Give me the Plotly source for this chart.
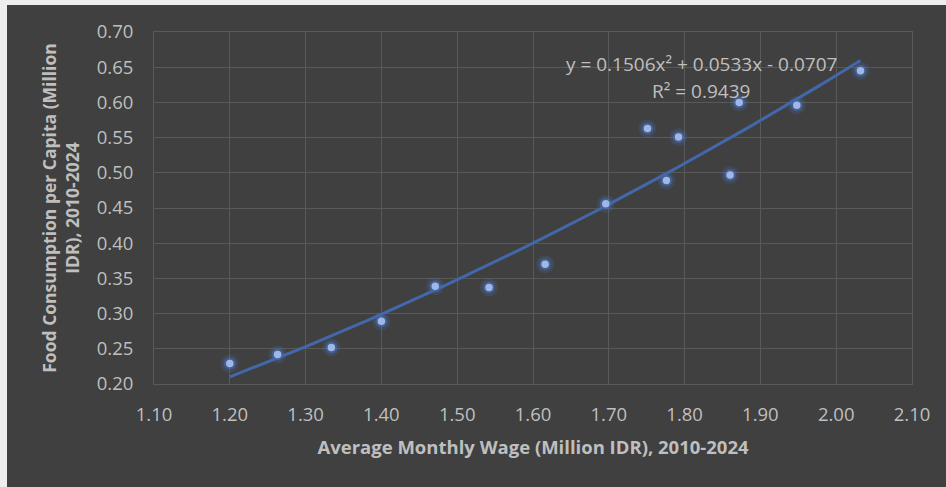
import numpy as np
import plotly.graph_objects as go

# Average monthly wage (million IDR) and food consumption per capita (million IDR), 2010-2024
wage = [1.200, 1.263, 1.334, 1.400, 1.471, 1.542, 1.616, 1.696, 1.751,
        1.776, 1.792, 1.860, 1.872, 1.948, 2.032]
food = [0.229, 0.242, 0.252, 0.289, 0.339, 0.337, 0.370, 0.456, 0.563,
        0.489, 0.551, 0.497, 0.600, 0.596, 0.645]

# Polynomial trendline (order 2) as reported on the chart
coef_a, coef_b, coef_c = 0.1506, 0.0533, -0.0707
r_squared = 0.9439

x_ticks = [1.10, 1.20, 1.30, 1.40, 1.50, 1.60, 1.70, 1.80, 1.90, 2.00, 2.10]
y_ticks = [0.20, 0.25, 0.30, 0.35, 0.40, 0.45, 0.50, 0.55, 0.60, 0.65, 0.70]

W, H = 946, 487
ML, MR, MT, MB = 154, 34, 32, 103
PW, PH = W - ML - MR, H - MT - MB

BG = "#404040"
GRID = "#595959"
TXT = "#bfbfbf"
FONT = "Open Sans"

trend_x = np.linspace(min(wage), max(wage), 60)
trend_y = coef_a * trend_x ** 2 + coef_b * trend_x + coef_c

fig = go.Figure()

# soft halo behind the points
fig.add_trace(go.Scatter(x=wage, y=food, mode="markers", hoverinfo="skip",
                         marker=dict(size=18, color="rgba(68,114,196,0.2)", line=dict(width=0))))
fig.add_trace(go.Scatter(x=wage, y=food, mode="markers", hoverinfo="skip",
                         marker=dict(size=12, color="rgba(80,125,205,0.4)", line=dict(width=0))))

fig.add_trace(go.Scatter(x=trend_x, y=trend_y, mode="lines",
                         line=dict(color="#4268ab", width=3)))

fig.add_trace(go.Scatter(x=wage, y=food, mode="markers",
                         marker=dict(size=7.5, color="#9db7ea", line=dict(width=0))))

axis_common = dict(
    showgrid=True, gridcolor=GRID, gridwidth=1,
    showline=True, linecolor=GRID, linewidth=1, mirror=True,
    zeroline=False, ticks="",
    tickfont=dict(family=FONT, size=18.5, color=TXT),
    tickformat=".2f",
)

fig.update_xaxes(range=[1.10, 2.10], tickvals=x_ticks, ticklabelstandoff=14,
                 title=dict(text="<b>Average Monthly Wage (Million IDR), 2010-2024</b>",
                            font=dict(family=FONT, size=18.5, color=TXT), standoff=15),
                 **axis_common)
fig.update_yaxes(range=[0.20, 0.70], tickvals=y_ticks, ticklabelstandoff=16,
                 title=dict(text="<b>Food Consumption per Capita (Million<br>IDR), 2010-2024</b>",
                            font=dict(family=FONT, size=17.5, color=TXT), standoff=12),
                 **axis_common)

eq_text = f"y = {coef_a:.4f}x² + {coef_b:.4f}x - {abs(coef_c):.4f}"
fig.add_annotation(xref="paper", yref="paper", x=(701 - ML) / PW, y=(MT + PH - 64) / PH,
                   text=eq_text, showarrow=False, xanchor="center", yanchor="middle",
                   font=dict(family=FONT, size=19, color=TXT))
fig.add_annotation(xref="paper", yref="paper", x=(701 - ML) / PW, y=(MT + PH - 91) / PH,
                   text=f"R² = {r_squared:.4f}", showarrow=False, xanchor="center", yanchor="middle",
                   font=dict(family=FONT, size=19, color=TXT))

# light frame strips along the top and left edges of the image
def px_x(p):
    return (p - ML) / PW

def px_y(p):
    return (MT + PH - p) / PH

fig.add_shape(type="rect", xref="paper", yref="paper", layer="above",
              x0=px_x(0), x1=px_x(W), y0=px_y(5), y1=px_y(0),
              fillcolor="#eeeeee", line=dict(width=0))
fig.add_shape(type="rect", xref="paper", yref="paper", layer="above",
              x0=px_x(0), x1=px_x(7), y0=px_y(H), y1=px_y(0),
              fillcolor="#eeeeee", line=dict(width=0))

fig.update_layout(
    width=W, height=H,
    margin=dict(l=ML, r=MR, t=MT, b=MB),
    paper_bgcolor=BG, plot_bgcolor=BG,
    showlegend=False,
)

fig.write_html("out.html")
